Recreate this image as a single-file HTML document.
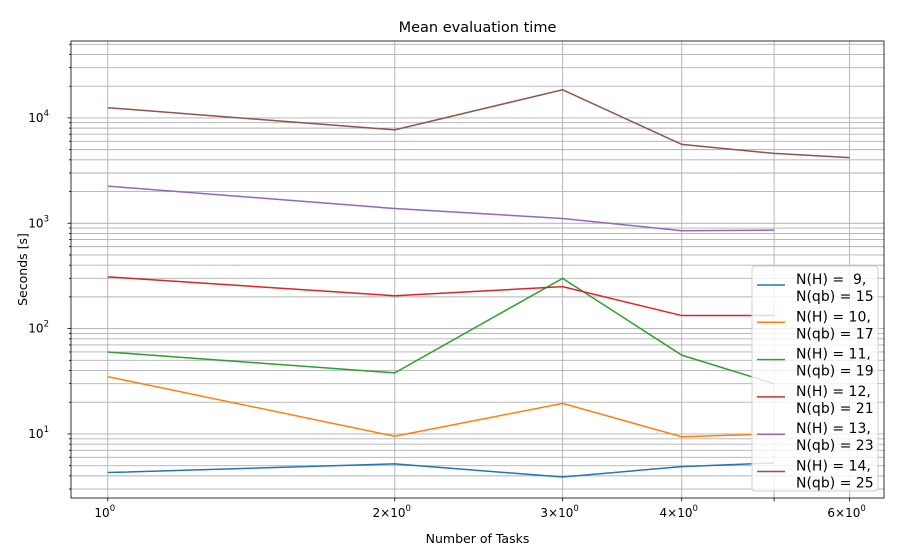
<!DOCTYPE html>
<html><head><meta charset="utf-8"><style>
body{margin:0;background:#fff;font-family:"Liberation Sans","DejaVu Sans",sans-serif}
svg text{font-family:"DejaVu Sans","Liberation Sans",sans-serif;white-space:pre}
</style></head><body>
<svg id="c" width="911" height="548" xmlns="http://www.w3.org/2000/svg"></svg>
<script>
const xValues=[1,2,3,4,5,6];
const seriesLabels=[["N(H) =  9,","N(qb) = 15"],["N(H) = 10,","N(qb) = 17"],["N(H) = 11,","N(qb) = 19"],["N(H) = 12,","N(qb) = 21"],["N(H) = 13,","N(qb) = 23"],["N(H) = 14,","N(qb) = 25"]];
const s9=[4.3,5.2,3.9,4.9,5.3];
const s10=[35,9.5,19.5,9.4,10];
const s11=[60,38,300,56,30];
const s12=[310,205,250,133,133];
const s13=[2250,1380,1110,850,860];
const s14=[12500,7700,18500,5600,4600,4200];
const xTickVals=[1,2,3,4,6];
const xTickLabels=["10","2×10","3×10","4×10","6×10"];
const yTickVals=[10,100,1000,10000];
const yTickLabels=["10","10","10","10"];
const yTickExp=["1","2","3","4"];
const colors=["#1f77b4","#ff7f0e","#2ca02c","#d62728","#9467bd","#8c564b"];
const series=[s9,s10,s11,s12,s13,s14];
const L=71,R=884,T=41,B=498;
const xmin=Math.log10(0.915),xmax=Math.log10(6.52),ymin=0.392,ymax=4.73;
const X=v=>L+(Math.log10(v)-xmin)/(xmax-xmin)*(R-L);
const Y=v=>B-(Math.log10(v)-ymin)/(ymax-ymin)*(B-T);
const svg=document.getElementById('c');const NS="http://www.w3.org/2000/svg";
function mk(t,a,p){const e=document.createElementNS(NS,t);for(const k in a)e.setAttribute(k,a[k]);(p||svg).appendChild(e);return e;}
for(let d=0;d<=5;d++)for(let m=1;m<10;m++){const v=m*Math.pow(10,d);const y=Y(v);if(y<T||y>B)continue;
const g=mk('line',{x1:L,x2:R,y1:y,y2:y,stroke:'#b0b0b0','stroke-width':0.9});


const tk=mk('line',{x1:L-(m===1?3.5:2),x2:L,y1:y,y2:y,stroke:'#000','stroke-width':0.8});

}
xValues.forEach(v=>{const x=X(v);const g=mk('line',{x1:x,x2:x,y1:T,y2:B,stroke:'#b0b0b0','stroke-width':0.9});


const tk=mk('line',{x1:x,x2:x,y1:B,y2:B+3.5,stroke:'#000','stroke-width':0.8});

});
xTickVals.forEach((v,i)=>{const t=mk('text',{x:X(v)-3,y:B+19,'text-anchor':'middle','font-size':12});t.textContent=xTickLabels[i];
const s=mk('tspan',{dy:-6,'font-size':8.5},t);s.textContent='0';

});
yTickVals.forEach((v,i)=>{const t=mk('text',{x:L-22,y:Y(v)+4,'text-anchor':'end','font-size':12});t.textContent=yTickLabels[i];
const s=mk('tspan',{dy:-6,'font-size':8.5},t);s.textContent=yTickExp[i];

});
series.forEach((s,i)=>{const p=mk('polyline',{points:s.map((v,j)=>X(xValues[j])+','+Y(v)).join(' '),fill:'none',stroke:colors[i],'stroke-width':1.5});

});
const fr=mk('rect',{x:L,y:T,width:R-L,height:B-T,fill:'none',stroke:'#000','stroke-width':0.8});


const lg=mk('g',{});
mk('rect',{x:752,y:266,width:126,height:225,rx:3,fill:'rgba(255,255,255,0.8)',stroke:'#d0d0d0'},lg);
seriesLabels.forEach((lb,i)=>{const y0=285+i*37.3;
const l=mk('line',{x1:757,x2:785,y1:y0,y2:y0,stroke:colors[i],'stroke-width':1.5},lg);


const t1=mk('text',{x:796,y:y0-1,'font-size':14},lg);t1.textContent=lb[0];
const t2=mk('text',{x:796,y:y0+16,'font-size':14},lg);t2.textContent=lb[1];});
const ti=mk('text',{x:(L+R)/2,y:32,'text-anchor':'middle','font-size':14.5});ti.textContent='Mean evaluation time';

const xl=mk('text',{x:(L+R)/2,y:543,'text-anchor':'middle','font-size':12.5});xl.textContent='Number of Tasks';

const yl=mk('text',{x:27,y:(T+B)/2,'text-anchor':'middle','font-size':12.5,transform:`rotate(-90 27 ${(T+B)/2})`});yl.textContent='Seconds [s]';

</script>
</body></html>
